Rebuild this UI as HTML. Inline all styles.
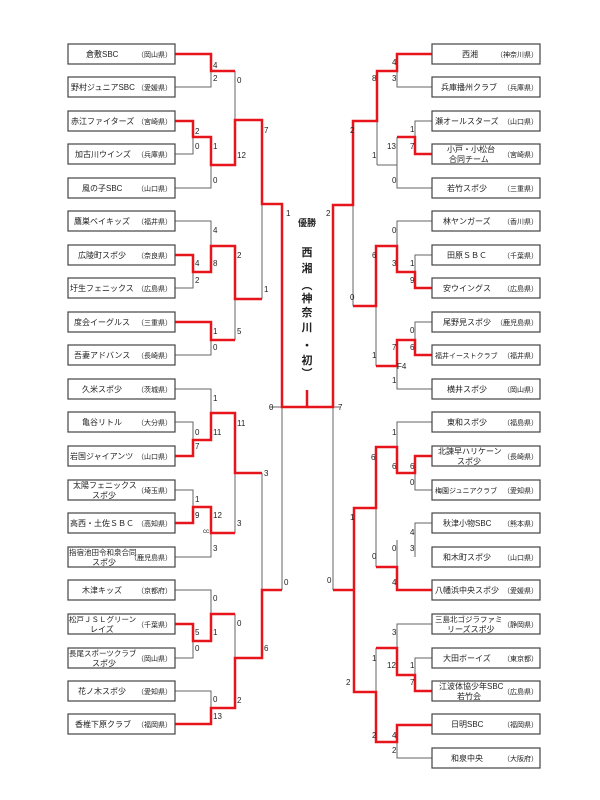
<!DOCTYPE html>
<html><head><meta charset="utf-8"><style>
html,body{margin:0;padding:0;background:#fff;width:600px;height:800px;overflow:hidden}
svg{display:block}
text{font-family:"Liberation Sans","Noto Sans CJK JP",sans-serif;fill:#222}
.b{fill:#fff;stroke:#444;stroke-width:1.2}
.g{fill:none;stroke:#666;stroke-width:1}
.r{fill:none;stroke:#e8141b;stroke-width:2.5}
.n{font-size:8px}
.pl text{font-size:7px;text-anchor:end}
.s{font-size:8px}
</style></head><body>
<svg width="600" height="800" viewBox="0 0 600 800" xmlns="http://www.w3.org/2000/svg">
<g class="g">
<path d="M175,87H211V54M175,154H193V121M175,188H211V137M235,71V165M262,120V299M282,204V590"/>
<path d="M175,221H211V272M175,288H193V255M235,246V340M175,355H211V322"/>
<path d="M175,389H211V440M175,422H193V456M235,413V533M175,490H193V523M175,557H211V507M262,473V658"/>
<path d="M175,590H211V641M175,658H193V624M235,614V708M175,691H211V724"/>
<path d="M270,407H340"/>
<path d="M432,87H397V54M377,71V165M432,121H415V154M432,188H397V137M377,165H397M353,121V306M333,205V590"/>
<path d="M432,221H397V272M432,255H415V288M376,246V366M432,322H415V355M432,389H397V340"/>
<path d="M432,422H397V473M432,490H415V456M376,447V567M354,508V692M432,523H415V557M397,540V590"/>
<path d="M432,624H397V675M432,658H415V691M376,648V742M432,758H397V725"/>
</g>
<g class="r">
<path d="M175,54H211V71H235"/>
<path d="M175,121H193V137H211V165H235V120H262V204H282V407H307V390"/>
<path d="M175,255H193V272H211V246H235V299H262"/>
<path d="M175,322H211V340H235"/>
<path d="M175,456H193V440H211V413H235V473H262"/>
<path d="M175,523H193V507H211V533H235"/>
<path d="M175,624H193V641H211V614H235"/>
<path d="M175,724H211V708H235V658H262V590H282"/>
<path d="M432,54H397V71H377V121H353V205H333V407H307"/>
<path d="M432,154H415V137H397"/>
<path d="M432,288H415V272H397V246H376V306H353"/>
<path d="M432,355H415V340H397V366H376"/>
<path d="M432,456H415V473H397V447H376V508H354V692H376V742H397V725H432"/>
<path d="M333,590H354"/>
<path d="M432,590H397V567H376"/>
<path d="M432,691H415V675H397V648H376"/>
</g>
<g>
<rect class="b" x="68" y="44" width="107" height="20"/><text class="n" x="86" y="57">倉敷SBC</text>
<rect class="b" x="68" y="77" width="107" height="20"/><text class="n" x="71" y="90">野村ジュニアSBC</text>
<rect class="b" x="68" y="111" width="107" height="20"/><text class="n" x="71" y="124">赤江ファイターズ</text>
<rect class="b" x="68" y="144" width="107" height="20"/><text class="n" x="75" y="157">加古川ウインズ</text>
<rect class="b" x="68" y="178" width="107" height="20"/><text class="n" x="82" y="191">風の子SBC</text>
<rect class="b" x="68" y="211" width="107" height="20"/><text class="n" x="74" y="224">鷹巣ベイキッズ</text>
<rect class="b" x="68" y="245" width="107" height="20"/><text class="n" x="78" y="258">広陵町スポ少</text>
<rect class="b" x="68" y="278" width="107" height="20"/><text class="n" x="70" y="291">圩生フェニックス</text>
<rect class="b" x="68" y="312" width="107" height="20"/><text class="n" x="74" y="325">度会イーグルス</text>
<rect class="b" x="68" y="345" width="107" height="20"/><text class="n" x="74" y="358">吾妻アドバンス</text>
<rect class="b" x="68" y="379" width="107" height="20"/><text class="n" x="82" y="392">久米スポ少</text>
<rect class="b" x="68" y="412" width="107" height="20"/><text class="n" x="82" y="425">亀谷リトル</text>
<rect class="b" x="68" y="446" width="107" height="20"/><text class="n" x="70" y="459">岩国ジャイアンツ</text>
<rect class="b" x="68" y="480" width="107" height="20"/><text class="n" x="73" y="488">太陽フェニックス</text><text class="n" x="92" y="498">スポ少</text>
<rect class="b" x="68" y="513" width="107" height="20"/><text class="n" x="70" y="526">高西・土佐ＳＢＣ</text>
<rect class="b" x="68" y="547" width="107" height="20"/><text class="n" x="69" y="555" style="font-size:7.5px">指宿池田令和泉合同</text><text class="n" x="92" y="565">スポ少</text>
<rect class="b" x="68" y="580" width="107" height="20"/><text class="n" x="82" y="593">木津キッズ</text>
<rect class="b" x="68" y="614" width="107" height="20"/><text class="n" x="69" y="622" style="font-size:7.5px">松戸ＪＳＬグリーン</text><text class="n" x="90" y="632">レイズ</text>
<rect class="b" x="68" y="648" width="107" height="20"/><text class="n" x="69" y="656" style="font-size:7.5px">長尾スポーツクラブ</text><text class="n" x="92" y="666">スポ少</text>
<rect class="b" x="68" y="681" width="107" height="20"/><text class="n" x="78" y="694">花ノ木スポ少</text>
<rect class="b" x="68" y="714" width="107" height="20"/><text class="n" x="75" y="727">香椎下原クラブ</text>
</g>
<g>
<rect class="b" x="432" y="44" width="108" height="20"/><text class="n" x="462" y="57">西湘</text>
<rect class="b" x="432" y="77" width="108" height="20"/><text class="n" x="441" y="90">兵庫播州クラブ</text>
<rect class="b" x="432" y="111" width="108" height="20"/><text class="n" x="435" y="124">瀬オールスターズ</text>
<rect class="b" x="432" y="144" width="108" height="20"/><text class="n" x="447" y="152">小戸・小松台</text><text class="n" x="449" y="162">合同チーム</text>
<rect class="b" x="432" y="178" width="108" height="20"/><text class="n" x="447" y="191">若竹スポ少</text>
<rect class="b" x="432" y="211" width="108" height="20"/><text class="n" x="443" y="224">林ヤンガーズ</text>
<rect class="b" x="432" y="245" width="108" height="20"/><text class="n" x="447" y="258">田原ＳＢＣ</text>
<rect class="b" x="432" y="278" width="108" height="20"/><text class="n" x="443" y="291">安ウイングス</text>
<rect class="b" x="432" y="312" width="108" height="20"/><text class="n" x="443" y="325">尾野見スポ少</text>
<rect class="b" x="432" y="345" width="108" height="20"/><text class="n" x="435" y="358" style="font-size:7px">福井イーストクラブ</text>
<rect class="b" x="432" y="379" width="108" height="20"/><text class="n" x="447" y="392">横井スポ少</text>
<rect class="b" x="432" y="412" width="108" height="20"/><text class="n" x="447" y="425">東和スポ少</text>
<rect class="b" x="432" y="446" width="108" height="20"/><text class="n" x="438" y="454">北諫早ハリケーン</text><text class="n" x="457" y="464">スポ少</text>
<rect class="b" x="432" y="480" width="108" height="20"/><text class="n" x="435" y="493" style="font-size:7px">梅園ジュニアクラブ</text>
<rect class="b" x="432" y="513" width="108" height="20"/><text class="n" x="443" y="526">秋津小物SBC</text>
<rect class="b" x="432" y="547" width="108" height="20"/><text class="n" x="443" y="560">和木町スポ少</text>
<rect class="b" x="432" y="580" width="108" height="20"/><text class="n" x="435" y="593">八幡浜中央スポ少</text>
<rect class="b" x="432" y="614" width="108" height="20"/><text class="n" x="435" y="622" style="font-size:7.5px">三島北ゴジラファミ</text><text class="n" x="447" y="632">リーズスポ少</text>
<rect class="b" x="432" y="648" width="108" height="20"/><text class="n" x="443" y="661">大田ボーイズ</text>
<rect class="b" x="432" y="681" width="108" height="20"/><text class="n" x="439" y="689">江波体協少年SBC</text><text class="n" x="457" y="699">若竹会</text>
<rect class="b" x="432" y="714" width="108" height="20"/><text class="n" x="451" y="727">日明SBC</text>
<rect class="b" x="432" y="748" width="108" height="20"/><text class="n" x="451" y="761">和泉中央</text>
</g>
<g class="pl">
<text x="172" y="57">（岡山県）</text><text x="172" y="90">（愛媛県）</text><text x="172" y="124">（宮崎県）</text>
<text x="172" y="157">（兵庫県）</text><text x="172" y="191">（山口県）</text><text x="172" y="224">（福井県）</text>
<text x="172" y="258">（奈良県）</text><text x="172" y="291">（広島県）</text><text x="172" y="325">（三重県）</text>
<text x="172" y="358">（長崎県）</text><text x="172" y="392">（茨城県）</text><text x="172" y="425">（大分県）</text>
<text x="172" y="459">（山口県）</text><text x="172" y="493">（埼玉県）</text><text x="172" y="526">（高知県）</text>
<text x="172" y="560">（鹿児島県）</text><text x="172" y="593">（京都府）</text><text x="172" y="627">（千葉県）</text>
<text x="172" y="661">（岡山県）</text><text x="172" y="694">（愛知県）</text><text x="172" y="727">（福岡県）</text>
<text x="538" y="57">（神奈川県）</text><text x="538" y="90">（兵庫県）</text><text x="538" y="124">（山口県）</text>
<text x="538" y="157">（宮崎県）</text><text x="538" y="191">（三重県）</text><text x="538" y="224">（香川県）</text>
<text x="538" y="258">（千葉県）</text><text x="538" y="291">（広島県）</text><text x="538" y="325">（鹿児島県）</text>
<text x="538" y="358">（福井県）</text><text x="538" y="392">（岡山県）</text><text x="538" y="425">（福島県）</text>
<text x="538" y="459">（長崎県）</text><text x="538" y="493">（愛知県）</text><text x="538" y="526">（熊本県）</text>
<text x="538" y="560">（山口県）</text><text x="538" y="593">（愛媛県）</text><text x="538" y="627">（静岡県）</text>
<text x="538" y="661">（東京都）</text><text x="538" y="694">（広島県）</text><text x="538" y="727">（福岡県）</text>
<text x="538" y="761">（大阪府）</text>
</g>
<g class="s" font-size="8">
<text x="213" y="68">4</text><text x="213" y="81">2</text><text x="237" y="83">0</text>
<text x="195" y="134">2</text><text x="195" y="149">0</text><text x="213" y="149">1</text><text x="213" y="183">0</text>
<text x="237" y="158">12</text><text x="264" y="133">7</text><text x="286" y="216">1</text>
<text x="213" y="233">4</text><text x="195" y="266">4</text><text x="213" y="266">8</text><text x="195" y="283">2</text>
<text x="237" y="258">2</text><text x="213" y="334">1</text><text x="213" y="350">0</text><text x="237" y="334">5</text>
<text x="264" y="292">1</text>
<text x="213" y="401">1</text><text x="195" y="435">0</text><text x="213" y="435">11</text><text x="195" y="449">7</text>
<text x="237" y="426">11</text><text x="264" y="476">3</text><text x="195" y="502">1</text><text x="195" y="518">9</text>
<text x="213" y="518">12</text><text x="237" y="526">3</text><text x="213" y="551">3</text><text x="203" y="533" font-size="6">cc</text>
<text x="269" y="410">0</text><text x="284" y="585">0</text>
<text x="213" y="601">0</text><text x="237" y="626">0</text><text x="195" y="635">5</text><text x="213" y="635">1</text>
<text x="195" y="651">0</text><text x="264" y="651">6</text><text x="213" y="702">0</text><text x="237" y="703">2</text>
<text x="213" y="719">13</text>
<text x="392" y="65">4</text><text x="392" y="81">3</text><text x="372" y="81">8</text><text x="350" y="133">2</text>
<text x="326" y="216">2</text><text x="410" y="132">1</text><text x="410" y="149">7</text><text x="387" y="149">13</text>
<text x="372" y="158">1</text><text x="392" y="183">0</text>
<text x="392" y="233">0</text><text x="372" y="258">6</text><text x="392" y="266">3</text><text x="410" y="266">1</text>
<text x="410" y="283">9</text><text x="350" y="300">0</text><text x="410" y="333">0</text><text x="392" y="350">7</text>
<text x="410" y="350">6</text><text x="372" y="358">1</text><text x="397" y="369">F4</text><text x="392" y="383">1</text>
<text x="338" y="410">7</text>
<text x="392" y="435">1</text><text x="371" y="460">6</text><text x="392" y="469">6</text><text x="410" y="469">6</text>
<text x="410" y="485">0</text><text x="350" y="520">1</text><text x="410" y="535">4</text><text x="392" y="551">0</text>
<text x="410" y="551">3</text><text x="372" y="559">0</text><text x="327" y="583">0</text><text x="392" y="585">4</text>
<text x="392" y="635">3</text><text x="372" y="661">1</text><text x="410" y="668">1</text><text x="387" y="668">12</text>
<text x="410" y="685">7</text><text x="346" y="685">2</text><text x="372" y="738">2</text><text x="392" y="738">4</text>
<text x="392" y="753">2</text>
</g>
<g font-size="9" text-anchor="middle">
<text x="307" y="226" font-weight="bold">優勝</text>
<text x="307" y="256" font-size="11" font-weight="bold">西</text>
<text x="307" y="272" font-size="11" font-weight="bold">湘</text>
<text x="307" y="289" font-size="11" font-weight="bold">︵</text>
<text x="307" y="302" font-size="11" font-weight="bold">神</text>
<text x="307" y="316" font-size="11" font-weight="bold">奈</text>
<text x="307" y="331" font-size="11" font-weight="bold">川</text>
<text x="307" y="349" font-size="11" font-weight="bold">・</text>
<text x="307" y="364" font-size="11" font-weight="bold">初</text>
<text x="307" y="377" font-size="11" font-weight="bold">︶</text>
</g>
</svg>
</body></html>
